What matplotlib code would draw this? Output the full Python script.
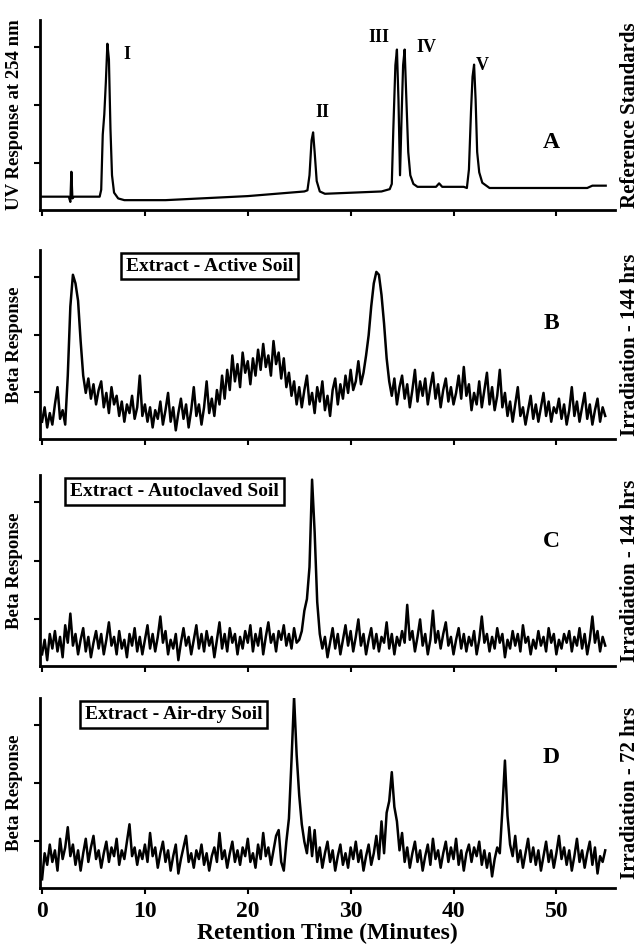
#!/usr/bin/env python3
"""
Chromatograms: UV reference standards (A) and beta-response traces of soil
extracts (B-D), stacked on a shared retention-time axis.
Saves out.png.
"""

import numpy as np
import matplotlib.pyplot as plt

plt.rcParams["font.family"] = ["Liberation Serif", "DejaVu Serif"]
plt.rcParams["font.weight"] = "bold"

# ---- data (heights in hundredths of a tick interval above the x axis) ----
# Panel A: reference standards, digitised at irregular retention times (min)
a_time = [0.0, 2.6, 2.75, 2.85, 2.95, 3.1, 5.6, 5.75, 5.9, 6.05, 6.2, 6.35,
          6.5, 6.65, 6.8, 7.0, 7.4, 8.0, 12.0, 20.0, 25.5, 25.8, 26.0, 26.2,
          26.35, 26.5, 26.7, 27.0, 27.5, 33.0, 33.8, 34.0, 34.15, 34.35, 34.5,
          34.65, 34.8, 34.95, 35.1, 35.25, 35.4, 35.6, 35.8, 36.1, 36.5, 38.3,
          38.6, 38.9, 41.0, 41.3, 41.5, 41.7, 41.85, 42.0, 42.15, 42.3, 42.5,
          42.8, 43.5, 53.0, 53.5, 54.8]
a_resp = [23, 23, 14, 66, 20, 23, 23, 35, 130, 165, 220, 287,
          260, 140, 60, 30, 20, 17, 17, 24, 32, 34, 60, 120,
          134, 100, 50, 32, 28, 32, 36, 45, 140, 250, 277,
          190, 60, 160, 250, 277, 200, 100, 60, 45, 40, 40,
          46, 40, 40, 38, 70, 170, 230, 251, 190, 100, 65,
          47, 38, 38, 42, 42]

# Panels B-D: detector sampled every 0.25 min from t = 0
SAMPLE_START = 0.0
SAMPLE_STEP = 0.25

b_resp = [30, 55, 20, 45, 25, 60, 90, 35, 50, 25,
          110, 230, 285, 270, 240, 170, 110, 80, 105, 70,
          95, 60, 85, 100, 55, 80, 45, 90, 60, 75,
          40, 65, 30, 60, 45, 75, 35, 55, 110, 40,
          60, 30, 55, 20, 50, 35, 65, 25, 50, 80,
          30, 55, 15, 45, 70, 35, 60, 20, 50, 90,
          40, 60, 25, 55, 100, 45, 70, 40, 85, 60,
          110, 70, 120, 85, 145, 100, 130, 90, 150, 115,
          135, 95, 140, 110, 155, 120, 165, 125, 145, 110,
          170, 130, 150, 105, 140, 90, 115, 75, 100, 60,
          90, 55, 85, 110, 60, 80, 45, 90, 65, 100,
          50, 75, 40, 85, 105, 60, 95, 70, 110, 80,
          120, 85, 100, 135, 95, 115, 145, 180, 230, 270,
          290, 285, 250, 200, 140, 100, 75, 105, 60, 90,
          110, 70, 95, 55, 85, 120, 65, 100, 75, 105,
          60, 90, 115, 70, 95, 55, 85, 105, 65, 90,
          60, 80, 110, 70, 125, 75, 95, 50, 80, 60,
          100, 55, 85, 115, 60, 90, 50, 75, 120, 55,
          80, 40, 65, 30, 60, 90, 40, 55, 25, 50,
          75, 35, 60, 30, 55, 80, 40, 65, 30, 55,
          45, 70, 35, 60, 25, 50, 90, 40, 65, 30,
          55, 80, 35, 60, 25, 50, 70, 30, 55, 40]

c_resp = [20, 45, 10, 55, 30, 60, 25, 50, 15, 70,
          40, 90, 35, 55, 20, 45, 65, 25, 50, 15,
          40, 60, 30, 55, 20, 45, 75, 35, 50, 20,
          60, 30, 45, 15, 55, 35, 65, 25, 50, 20,
          45, 70, 30, 55, 25, 50, 85, 40, 60, 20,
          45, 30, 55, 10, 40, 65, 35, 50, 20, 45,
          70, 30, 55, 25, 60, 35, 50, 15, 45, 75,
          30, 55, 25, 65, 40, 55, 20, 50, 30, 60,
          40, 70, 25, 55, 35, 65, 20, 50, 75, 40,
          55, 25, 60, 45, 70, 35, 55, 30, 65, 40,
          45, 60, 95, 115, 170, 320, 230, 110, 55, 30,
          50, 15, 40, 65, 30, 55, 20, 45, 70, 35,
          60, 25, 50, 80, 35, 55, 20, 45, 65, 30,
          55, 25, 50, 40, 75, 30, 55, 20, 50, 35,
          60, 40, 105, 45, 60, 25, 50, 80, 35, 55,
          20, 45, 95, 40, 60, 30, 55, 75, 35, 50,
          20, 45, 65, 30, 55, 25, 50, 35, 60, 20,
          45, 85, 40, 55, 25, 50, 30, 65, 40, 55,
          15, 45, 30, 60, 35, 55, 25, 70, 40, 50,
          20, 45, 30, 60, 35, 50, 25, 65, 40, 55,
          20, 45, 30, 55, 40, 60, 25, 50, 35, 65,
          30, 55, 20, 45, 85, 40, 60, 25, 50, 35]

d_resp = [15, 60, 40, 75, 45, 65, 30, 85, 50, 70,
          105, 55, 75, 40, 65, 30, 60, 85, 45, 70,
          90, 50, 65, 35, 60, 80, 45, 70, 55, 85,
          40, 65, 50, 80, 110, 55, 70, 40, 65, 50,
          75, 45, 95, 55, 70, 35, 60, 80, 45, 65,
          30, 55, 75, 25, 50, 70, 90, 45, 60, 35,
          65, 50, 75, 40, 60, 30, 55, 70, 45, 95,
          50, 65, 35, 60, 80, 45, 65, 40, 70, 55,
          85, 45, 60, 35, 75, 50, 95, 55, 70, 40,
          65, 90, 100, 45, 30, 80, 120, 220, 330, 230,
          160, 110, 80, 60, 105, 55, 100, 45, 70, 35,
          60, 80, 45, 65, 30, 55, 75, 40, 60, 35,
          70, 50, 80, 45, 65, 30, 55, 75, 40, 60,
          90, 50, 115, 60, 130, 150, 200, 140, 115, 65,
          95, 45, 70, 35, 60, 80, 45, 65, 30, 55,
          75, 40, 85, 50, 65, 35, 60, 80, 45, 70,
          50, 85, 40, 65, 30, 60, 75, 45, 70, 55,
          80, 40, 65, 35, 60, 20, 50, 70, 60, 135,
          220, 125, 75, 55, 90, 45, 65, 35, 60, 85,
          45, 70, 40, 65, 30, 55, 80, 45, 65, 35,
          60, 90, 50, 70, 40, 65, 30, 55, 85, 45,
          65, 35, 60, 80, 40, 70, 25, 55, 45, 65]

peak_names = ["I", "II", "III", "IV", "V"]
peak_label_time = [8.2, 27.3, 32.7, 37.4, 42.8]
peak_label_resp = [269, 169, 297, 280, 249]

panel_letters = ["A", "B", "C", "D"]
box_texts = [None, "Extract - Active Soil", "Extract - Autoclaved Soil",
             "Extract - Air-dry Soil"]
box_time = [None, 16.3, 12.9, 12.8]
left_labels = ["UV Response at 254 nm", "Beta Response", "Beta Response",
               "Beta Response"]
right_labels = ["Reference Standards", "Irradiation - 144 hrs",
                "Irradiation - 144 hrs", "Irradiation - 72 hrs"]
letter_resp = [116, 200, 214, 226]
x_ticks = [0, 10, 20, 30, 40, 50]

# ---- layout (pixel rows of each panel: top of y axis, x axis) ----
W, H = 642, 947
rows = [(20, 210), (250, 439), (475, 666), (698, 888)]
left_px, right_px = 40, 615

fig = plt.figure(figsize=(W / 100, H / 100), dpi=100)

traces = [None, b_resp, c_resp, d_resp]
for k, (top, bot) in enumerate(rows):
    ax = fig.add_axes([left_px / W, 1 - bot / H, (right_px - left_px) / W,
                       (bot - top) / H])
    if k == 0:
        ax.plot(a_time, np.array(a_resp) / 100, color="black", lw=1.6)
        for name, tx, ty in zip(peak_names, peak_label_time, peak_label_resp):
            ax.text(tx, ty / 100, name, fontsize=13, fontweight="bold",
                    ha="center", va="center")
    else:
        y = np.array(traces[k]) / 100
        t = SAMPLE_START + SAMPLE_STEP * np.arange(len(y))
        ax.plot(t, y, color="black", lw=1.8)
        ax.text(box_time[k], 3.0, box_texts[k], fontsize=14,
                fontweight="bold", ha="center", va="center",
                bbox=dict(boxstyle="square,pad=0.25", fc="white",
                          ec="black", lw=1.8))

    ax.text(49.5, letter_resp[k] / 100, panel_letters[k], fontsize=17,
            fontweight="bold", ha="center", va="center")

    ax.set_xlim(-0.2, 55.7)
    ax.set_ylim(0, 3.28)
    ax.set_yticks([0.81, 1.81, 2.81])
    ax.set_yticklabels([])
    ax.set_xticks(x_ticks)
    if k == 3:
        ax.set_xticklabels([str(v) for v in x_ticks], fontsize=17,
                           fontweight="bold")
        ax.set_xlabel("Retention Time (Minutes)", fontsize=17,
                      fontweight="bold", labelpad=1)
    else:
        ax.set_xticklabels([])
    ax.tick_params(direction="out", length=4, width=1.5, pad=5)
    for side in ("top", "right"):
        ax.spines[side].set_visible(False)
    for side in ("left", "bottom"):
        ax.spines[side].set_linewidth(2)

    ymid = 1 - (top + bot) / 2 / H
    fig.text(15 / W, ymid, left_labels[k], rotation=90, fontsize=13.5,
             fontweight="bold", ha="center", va="center")
    fig.text(630 / W, ymid, right_labels[k], rotation=90, fontsize=15,
             fontweight="bold", ha="center", va="center")

fig.savefig("out.png", dpi=100)
